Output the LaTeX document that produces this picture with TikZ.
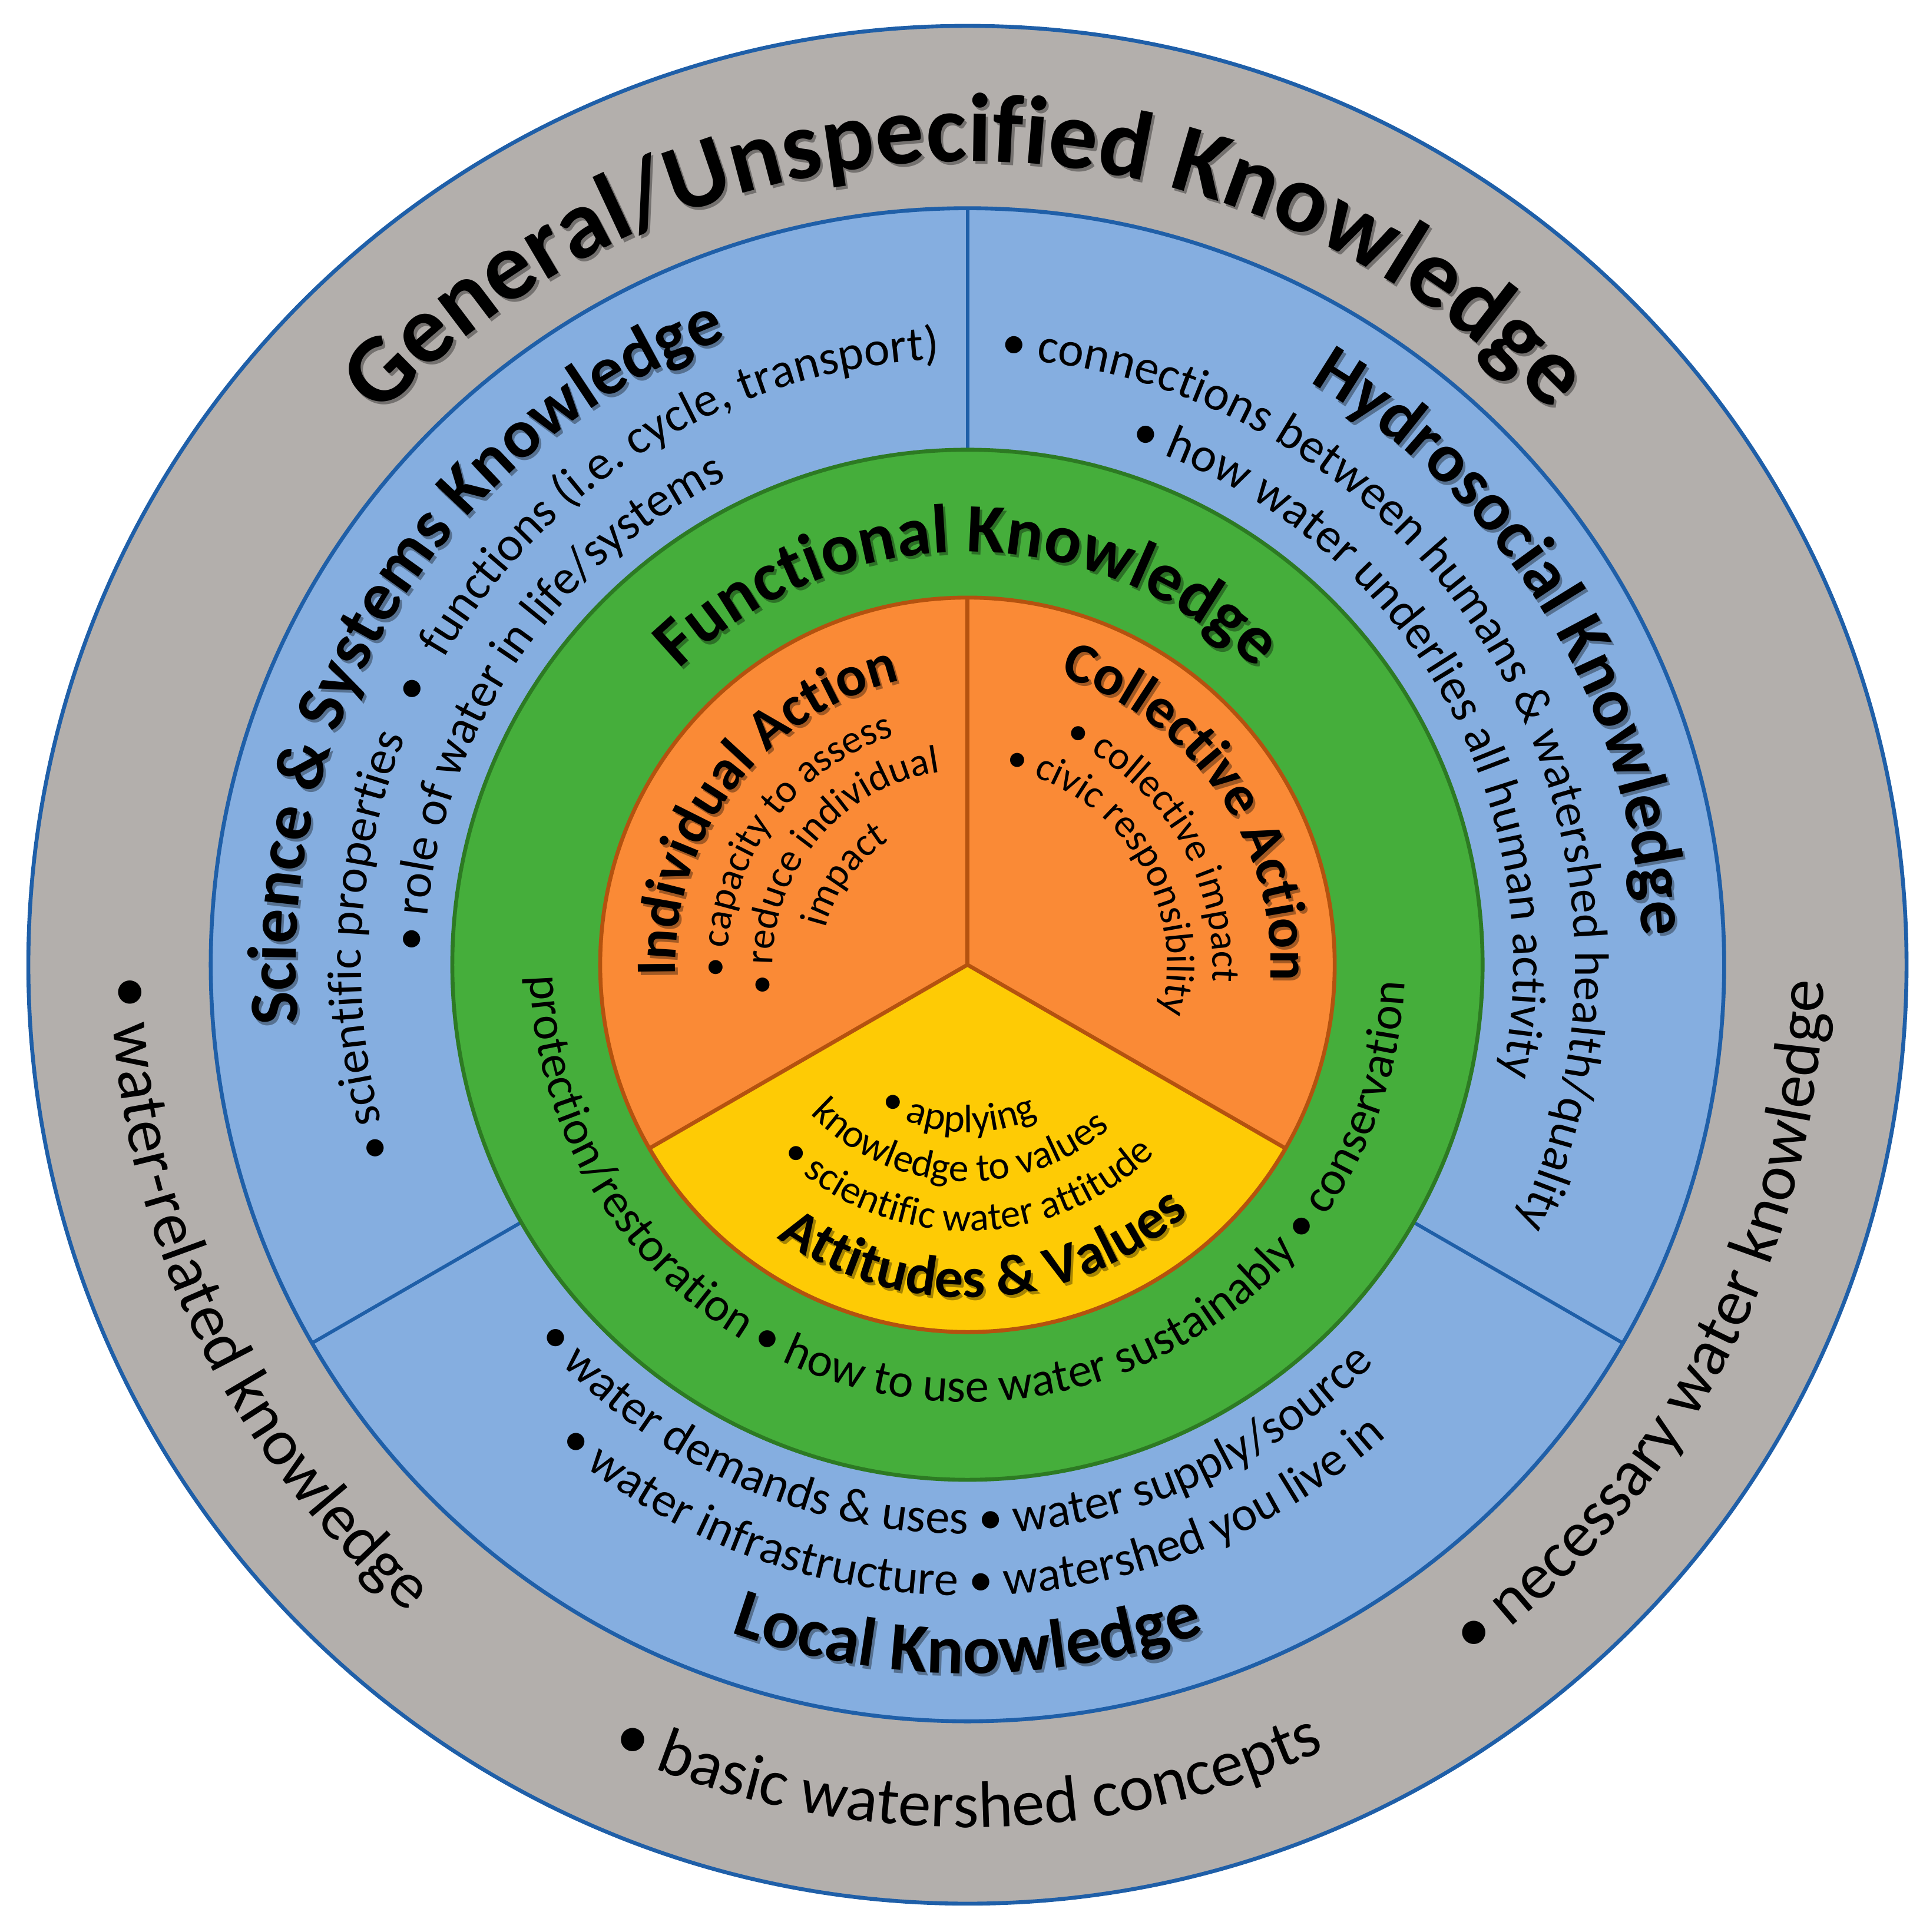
\documentclass[tikz,border=0pt]{standalone}
\usepackage{fontspec}
\setmainfont{Carlito}
\usetikzlibrary{decorations.text}
\definecolor{RingGray}{HTML}{B3AFAC}
\definecolor{RingBlue}{HTML}{85AEE0}
\definecolor{RingGreen}{HTML}{45AE3B}
\definecolor{CoreOrange}{HTML}{FA8A36}
\definecolor{CoreYellow}{HTML}{FECB05}
\definecolor{EdgeBlue}{HTML}{1F5FA8}
\definecolor{EdgeGreen}{HTML}{2D7A23}
\definecolor{EdgeOrange}{HTML}{B4520F}

\newcommand{\titlefont}{\fontsize{22.5}{27}\selectfont\bfseries}
\newcommand{\headfont}{\fontsize{16}{19}\selectfont\bfseries}
\newcommand{\corefont}{\fontsize{13.2}{16}\selectfont\bfseries}
\newcommand{\outerfont}{\fontsize{15.2}{18}\selectfont}
\newcommand{\bodyfont}{\fontsize{11.25}{14}\selectfont}
\newcommand{\greenfont}{\fontsize{11}{14}\selectfont}
\newcommand{\smallfont}{\fontsize{9.2}{11}\selectfont}

% text on the outer side of an arc (reads clockwise)
\newcommand{\arcover}[5][70]{%
  \path[decorate, decoration={text along path, text align=center, text={|#4|#5}}]
    ({#3+#1}:#2) arc[start angle={#3+#1}, end angle={#3-#1}, radius=#2];}
% text on the inner side of an arc (reads counter-clockwise)
\newcommand{\arcunder}[5][70]{%
  \path[decorate, decoration={text along path, text align=center, text={|#4|#5}}]
    ({#3-#1}:#2) arc[start angle={#3-#1}, end angle={#3+#1}, radius=#2];}
% headings carry a soft shadow
\newcommand{\headover}[5][70]{%
  \begin{scope}[shift={(0.02,-0.025)}, opacity=0.35]\arcover[#1]{#2}{#3}{#4}{#5}\end{scope}
  \arcover[#1]{#2}{#3}{#4}{#5}}
\newcommand{\headunder}[5][70]{%
  \begin{scope}[shift={(0.02,-0.025)}, opacity=0.35]\arcunder[#1]{#2}{#3}{#4}{#5}\end{scope}
  \arcunder[#1]{#2}{#3}{#4}{#5}}

\begin{document}
\begin{tikzpicture}[
    ring/.style={line width=0.9pt},
    divider/.style={EdgeBlue, line width=0.8pt}
  ]
  \useasboundingbox (-7.85,-7.85) rectangle (7.75,7.83);
  % rings
  \draw[ring, fill=RingGray, draw=EdgeBlue] (0,0) circle[radius=7.62];
  \draw[ring, fill=RingBlue, draw=EdgeBlue] (0,0) circle[radius=6.14];
  \foreach \a in {90,210,330}
    \draw[divider] (\a:4.18) -- (\a:6.14);
  \draw[ring, fill=RingGreen, draw=EdgeGreen] (0,0) circle[radius=4.18];
  \draw[ring, fill=CoreOrange, draw=EdgeOrange] (0,0) circle[radius=2.98];
  \draw[ring, fill=CoreYellow, draw=EdgeOrange] (0,0) -- (210:2.98)
    arc[start angle=210, end angle=330, radius=2.98] -- cycle;
  \draw[ring, EdgeOrange] (0,0) -- (90:2.98);

  % general ring
  \headover{6.52}{90.2}{\titlefont}{General/Unspecified Knowledge}
  \arcunder[40]{6.95}{205}{\outerfont}{• water-related knowledge}
  \arcunder[40]{7.00}{270}{\outerfont}{• basic watershed concepts}
  \arcunder[40]{6.95}{332.5}{\outerfont}{• necessary water knowledge}

  % blue ring
  \headover{5.45}{148}{\headfont}{Science {\&} Systems Knowledge}
  \arcover{4.92}{145.5}{\bodyfont}{• scientific properties{\hspace{0.7em}}•{\hspace{0.6em}}functions (i.e. cycle, transport)}
  \arcover{4.40}{147.5}{\bodyfont}{• role of water in life/systems}
  \headover{5.48}{31}{\headfont}{Hydrosocial Knowledge}
  \arcover[75]{4.93}{30.85}{\bodyfont}{• connections between humans {\&} watershed health/quality}
  \arcover{4.43}{30.5}{\bodyfont}{• how water underlies all human activity}
  \headunder{5.75}{270}{\headfont}{Local Knowledge}
  \arcunder{4.62}{268.3}{\bodyfont}{• water demands {\&} uses • water supply/source}
  \arcunder{5.12}{270.6}{\bodyfont}{• water infrastructure • watershed you live in}

  % green ring
  \headover{3.35}{90}{\headfont}{Functional Knowledge}
  \arcunder[100]{3.55}{269.6}{\greenfont}{protection/restoration • how to use water sustainably • conservation}

  % core
  \headover{2.37}{142.7}{\corefont}{Individual Action}
  \arcover{1.95}{145.3}{\smallfont}{• capacity to assess}
  \arcover{1.58}{143.2}{\smallfont}{• reduce individual}
  \arcover{1.19}{144}{\smallfont}{impact}
  \headover{2.46}{34.6}{\corefont}{Collective Action}
  \arcover{1.99}{31.4}{\smallfont}{• collective impact}
  \arcover[80]{1.62}{32.5}{\smallfont}{• civic responsibility}
  \arcunder{1.36}{266.5}{\smallfont}{• applying}
  \arcunder[80]{1.76}{267.3}{\smallfont}{knowledge to values}
  \arcunder{2.16}{270.2}{\smallfont}{• scientific water attitude}
  \headunder{2.70}{273.4}{\corefont}{Attitudes {\&} Values}
\end{tikzpicture}
\end{document}
